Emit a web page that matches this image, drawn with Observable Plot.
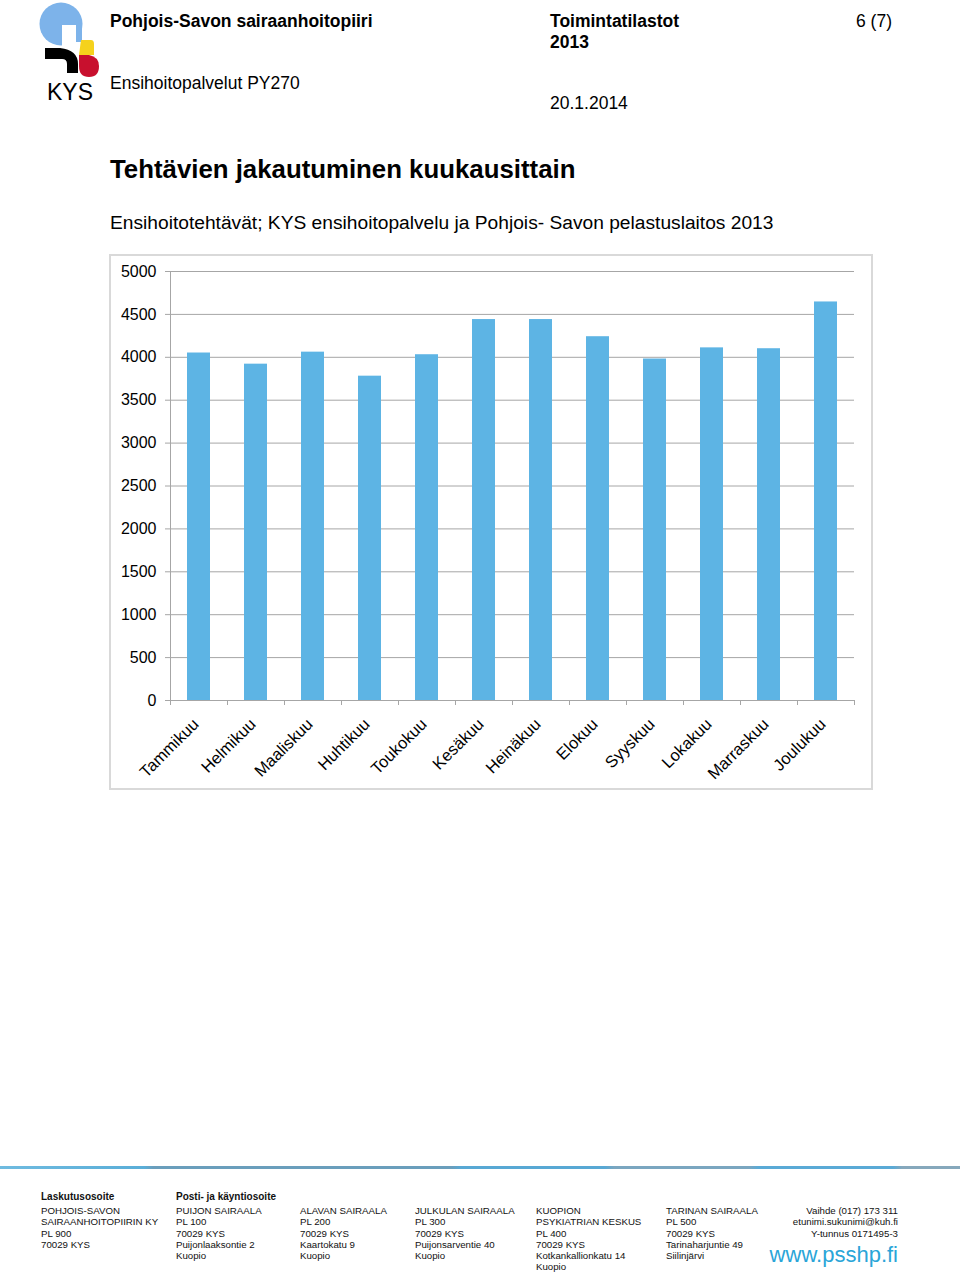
<!DOCTYPE html>
<html>
<head>
<meta charset="utf-8">
<script src="https://cdn.jsdelivr.net/npm/d3@7"></script>
<script src="https://cdn.jsdelivr.net/npm/@observablehq/plot@0.6"></script>
<style>
  html, body { margin: 0; padding: 0; background: #fff; }
  #page { position: relative; width: 960px; height: 1273px; font-family: "Liberation Sans", Arial, sans-serif; color: #000; overflow: hidden; }
  .abs { position: absolute; white-space: nowrap; }
  .hdr { font-size: 17.5px; }
  .b { font-weight: bold; }
  #chartbox { position: absolute; left: 109px; top: 254px; width: 764px; height: 536px; border: 2px solid #d9d9d9; box-sizing: border-box; }
  .foot { position: absolute; top: 1191px; font-size: 9.7px; line-height: 11.2px; white-space: nowrap; color: #111; }
  .foot .h { font-weight: bold; font-size: 10px; margin-bottom: 3px; }
</style>
</head>
<body>
<div id="page">
  <svg class="abs" style="left:36px;top:0px" width="70" height="106" viewBox="0 0 70 106">
    <circle cx="25" cy="24" r="21.5" fill="#7db3ea"/>
    <rect x="26" y="25" width="14" height="21" fill="#fff"/>
    <rect x="40" y="24" width="6" height="18" fill="#7db3ea"/>
    <path d="M45 40 L55 40 Q58 40 58 44 L58 55 L43 55 Z" fill="#f5d21c"/>
    <path d="M9 48 L24 48 Q42 50 42 64 L42 73 L31 73 L31 64 Q31 59 26 59 L9 59 Z" fill="#000"/>
    <path d="M43 55 L53 55 Q63 57 63 66 Q63 77 53 77 Q43 77 43 66 Z" fill="#c8102e"/>
    <text x="11" y="100" font-family="Liberation Sans, Arial, sans-serif" font-size="23" fill="#000">KYS</text>
  </svg>
  <div class="abs hdr b" style="left:110px;top:11px">Pohjois-Savon sairaanhoitopiiri</div>
  <div class="abs hdr b" style="left:550px;top:11px">Toimintatilastot</div>
  <div class="abs hdr b" style="left:550px;top:32px">2013</div>
  <div class="abs hdr" style="left:856px;top:11px">6 (7)</div>
  <div class="abs hdr" style="left:110px;top:73px">Ensihoitopalvelut PY270</div>
  <div class="abs hdr" style="left:550px;top:93px">20.1.2014</div>
  <div class="abs b" style="left:110px;top:155px;font-size:25.8px">Tehtävien jakautuminen kuukausittain</div>
  <div class="abs" style="left:110px;top:212px;font-size:19.2px">Ensihoitotehtävät; KYS ensihoitopalvelu ja Pohjois- Savon pelastuslaitos 2013</div>
  <div id="chartbox"></div>

  <div class="abs" style="left:0;top:1166px;width:960px;height:3px;background:linear-gradient(to right,#6fbbe0 0%,#5aaed8 15%,#6a9ebc 16%,#6a9ebc 47%,#58a8d4 48%,#58a8d4 63%,#7aa6c0 64%,#7aa6c0 78%,#5aaad6 79%,#5aaad6 93%,#86a8bc 94%,#86a8bc 100%)"></div>

  <div class="foot" style="left:41px"><div class="h">Laskutusosoite</div>POHJOIS-SAVON<br>SAIRAANHOITOPIIRIN KY<br>PL 900<br>70029 KYS</div>
  <div class="foot" style="left:176px"><div class="h">Posti- ja käyntiosoite</div>PUIJON SAIRAALA<br>PL 100<br>70029 KYS<br>Puijonlaaksontie 2<br>Kuopio</div>
  <div class="foot" style="left:300px"><div class="h">&nbsp;</div>ALAVAN SAIRAALA<br>PL 200<br>70029 KYS<br>Kaartokatu 9<br>Kuopio</div>
  <div class="foot" style="left:415px"><div class="h">&nbsp;</div>JULKULAN SAIRAALA<br>PL 300<br>70029 KYS<br>Puijonsarventie 40<br>Kuopio</div>
  <div class="foot" style="left:536px"><div class="h">&nbsp;</div>KUOPION<br>PSYKIATRIAN KESKUS<br>PL 400<br>70029 KYS<br>Kotkankallionkatu 14<br>Kuopio</div>
  <div class="foot" style="left:666px"><div class="h">&nbsp;</div>TARINAN SAIRAALA<br>PL 500<br>70029 KYS<br>Tarinaharjuntie 49<br>Siilinjärvi</div>
  <div class="foot" style="right:62px;text-align:right"><div class="h">&nbsp;</div>Vaihde (017) 173 311<br>etunimi.sukunimi@kuh.fi<br>Y-tunnus 0171495-3</div>
  <div class="abs" style="right:62px;top:1242px;font-size:22px;color:#2aa5d8;font-family:'Liberation Sans',Arial,sans-serif">www.psshp.fi</div>
</div>
<script>
const months = ["Tammikuu", "Helmikuu", "Maaliskuu", "Huhtikuu", "Toukokuu", "Kesäkuu",
                "Heinäkuu", "Elokuu", "Syyskuu", "Lokakuu", "Marraskuu", "Joulukuu"];
const values = [4050, 3920, 4060, 3780, 4030, 4440, 4440, 4240, 3980, 4110, 4100, 4645];
const yTicks = [0, 500, 1000, 1500, 2000, 2500, 3000, 3500, 4000, 4500, 5000];

const data = months.map((m, i) => ({month: m, value: values[i]}));

const W = 760, H = 532, ML = 59, MR = 17, MT = 15, MB = 88;
const step = (W - ML - MR) / months.length;
const grid = "#a6a6a6";

const chart = Plot.plot({
  width: W,
  height: H,
  marginLeft: ML,
  marginRight: MR,
  marginTop: MT,
  marginBottom: MB,
  style: {fontFamily: "'Liberation Sans', Arial, sans-serif", fontSize: "16px", color: "#000", background: "transparent"},
  x: {domain: months, paddingInner: 0.6, paddingOuter: 0.3, label: null},
  y: {domain: [0, 5000], label: null},
  marks: [
    Plot.ruleY(yTicks, {stroke: grid, strokeWidth: 1}),
    Plot.frame({anchor: "left", stroke: grid}),
    Plot.axisY({ticks: yTicks, tickFormat: d => String(d), tickSize: 5, tickPadding: 9, stroke: grid, fill: "#000", fontSize: "16px", label: null}),
    Plot.barY(data, {x: "month", y: "value", fill: "#5db4e4"}),
    Plot.axisX({tickSize: 5, tickFormat: () => "", dx: -step / 2, stroke: grid, label: null}),
    Plot.axisX([months[months.length - 1]], {tickSize: 5, tickFormat: () => "", dx: step / 2, stroke: grid, label: null}),
    Plot.axisX({tickSize: 0, tickPadding: 21, dx: -3, tickRotate: -45, fill: "#000", fontSize: "16.5px", label: null})
  ]
});
document.getElementById("chartbox").appendChild(chart);
</script>
</body>
</html>
